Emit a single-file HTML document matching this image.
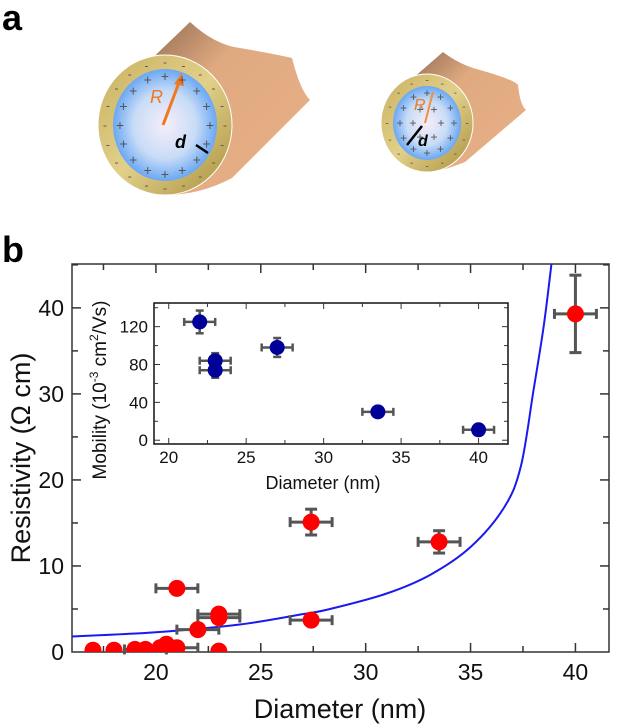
<!DOCTYPE html>
<html><head><meta charset="utf-8"><style>
body{margin:0;background:#fff;}
svg{display:block;font-family:"Liberation Sans",sans-serif;}
</style></head><body>
<svg id="fig" width="621" height="726" viewBox="0 0 621 726">
<defs>
<radialGradient id="core" cx="0.5" cy="0.5" r="0.5"><stop offset="0" stop-color="#f6eefa"/><stop offset="0.6" stop-color="#c8dcf6"/><stop offset="1" stop-color="#6aa8f4"/></radialGradient>
<linearGradient id="tube" x1="0" y1="0" x2="1" y2="1"><stop offset="0" stop-color="#8a6650"/><stop offset="0.35" stop-color="#e0aa80"/><stop offset="1" stop-color="#e8b088"/></linearGradient>
<linearGradient id="ring" x1="0" y1="0" x2="1" y2="1"><stop offset="0" stop-color="#c8b060"/><stop offset="0.5" stop-color="#e2d08a"/><stop offset="1" stop-color="#a8903c"/></linearGradient>
</defs>
<text x="2" y="30" font-size="36" font-weight="bold">a</text>
<text x="2" y="262" font-size="36" font-weight="bold">b</text>

<g>
<path d="M140,70 L190,22 Q215,45 240,48 Q280,55 292,58 Q300,90 310,100 L232,178 Q200,195 165,195 Z" fill="url(#tube)"/>
<ellipse cx="165" cy="125" rx="67" ry="70" fill="url(#ring)" stroke="#fff" stroke-width="1"/>
<ellipse cx="165" cy="125" rx="52" ry="56" fill="url(#core)"/>
<line x1="163" y1="125" x2="180" y2="80" stroke="#f07820" stroke-width="3"/>
<polygon points="182,73 174,84 184,86" fill="#f07820"/>
<text x="150" y="103" font-size="18" font-style="italic" fill="#f07820">R</text>
<text x="175" y="148" font-size="18" font-style="italic" font-weight="bold">d</text>
<line x1="196" y1="145" x2="208" y2="153" stroke="#000" stroke-width="2.5"/>
</g>
<g>
<path d="M405,85 L443,52 Q460,65 480,70 Q515,80 518,85 Q520,105 526,110 L465,162 Q440,172 427,172 Z" fill="url(#tube)"/>
<ellipse cx="427" cy="123" rx="46" ry="49" fill="url(#ring)" stroke="#fff" stroke-width="1"/>
<ellipse cx="427" cy="123" rx="34" ry="37" fill="url(#core)"/>
<line x1="425" y1="123" x2="433" y2="92" stroke="#f09040" stroke-width="2"/>
<text x="414" y="110" font-size="16" font-style="italic" fill="#f07820">R</text>
<line x1="422" y1="126" x2="407" y2="145" stroke="#000" stroke-width="2.5"/>
<text x="418" y="146" font-size="16" font-style="italic" font-weight="bold">d</text>
</g>
<g id="charges"></g>

<g id="main"></g>
<g id="inset"></g>
</svg>
<script>
// ===== Main chart data =====
const redDiam = [17, 18, 19, 19.5, 20.2, 20.5, 21, 23, 21, 22, 23, 23, 27.4, 27.4, 33.5, 40];
const redRho = [0.2, 0.2, 0.3, 0.3, 0.5, 0.9, 0.5, 0.1, 7.4, 2.6, 4.4, 4.0, 3.7, 15.1, 12.8, 39.3];
const redXErr = [0, 0, 0, 1, 1, 0, 1, 0, 1, 1, 1, 1, 1, 1, 1, 1];
const redYErr = [0, 0, 0, 0, 0, 0, 0, 0, 0.5, 0.3, 0.5, 0.5, 0.5, 1.5, 1.3, 4.5];
const fitDiam = [16, 20, 24, 27, 28.3, 31, 33.1, 35, 36.6, 37.4, 38, 38.5, 38.9];
const fitRho = [1.8, 2.3, 3.2, 4.4, 5.0, 6.8, 9.0, 12.2, 16.8, 21.6, 30.4, 38.1, 46];
const mainXTicks = [20, 25, 30, 35, 40];
const mainYTicks = [0, 10, 20, 30, 40];
// ===== Inset data =====
const blueDiam = [22, 23, 23, 27, 33.5, 40];
const blueMob = [125, 84, 74, 98, 30, 11];
const blueXErr = [1, 1, 1, 1, 1, 1];
const blueYErr = [12, 8, 8, 10, 3, 3];
const insetXTicks = [20, 25, 30, 35, 40];
const insetYTicks = [0, 40, 80, 120];

const NS = "http://www.w3.org/2000/svg";
function mk(parent, tag, attrs, text){const e=document.createElementNS(NS,tag);for(const k in attrs)e.setAttribute(k,attrs[k]);if(text!==undefined)e.textContent=text;parent.appendChild(e);return e;}

// charges
(function(){
 const g=document.getElementById('charges');
 function ringMarks(cx,cy,rx,ry,n,sym,fs){for(let i=0;i<n;i++){const a=i/n*2*Math.PI;const t=mk(g,'text',{x:cx+rx*Math.cos(a),y:cy+ry*Math.sin(a)+fs*0.35,'font-size':fs,'text-anchor':'middle',fill:'#555'},sym);
 
 }}
 ringMarks(165,125,60,63,20,'-',12);
 ringMarks(165,125,45,49,16,'+',14);
 ringMarks(427,123,40,43,16,'-',10);
 ringMarks(427,123,27,30,12,'+',12);
 ringMarks(427,123,14,16,6,'+',12);
})();

// main chart
(function(){
 const g=document.getElementById('main');
 const L=72,R=609,T=264,B=652;
 const xmin=16,xmax=41.6,ymin=0,ymax=45.1;
 const X=v=>L+(v-xmin)/(xmax-xmin)*(R-L);
 const Y=v=>B-(v-ymin)/(ymax-ymin)*(B-T);
 const frame=mk(g,'rect',{x:L,y:T,width:R-L,height:B-T,fill:'none',stroke:'#333','stroke-width':1.5});
 
 
 for(let v=17.5;v<=40;v+=2.5){const maj=mainXTicks.includes(v);const len=maj?9:6;
  mk(g,'line',{x1:X(v),x2:X(v),y1:B,y2:B-len,stroke:'#333','stroke-width':1.5});
  mk(g,'line',{x1:X(v),x2:X(v),y1:T,y2:T+len,stroke:'#333','stroke-width':1.5});}
 for(let v=5;v<=45;v+=5){const maj=mainYTicks.includes(v);const len=maj?9:6;
  mk(g,'line',{x1:L,x2:L+len,y1:Y(v),y2:Y(v),stroke:'#333','stroke-width':1.5});
  mk(g,'line',{x1:R,x2:R-len,y1:Y(v),y2:Y(v),stroke:'#333','stroke-width':1.5});}
 mainXTicks.forEach(v=>{const t=mk(g,'text',{x:X(v),y:B+28,'font-size':23,'text-anchor':'middle',fill:'#111'},v);
  
  });
 mainYTicks.forEach(v=>{const t=mk(g,'text',{x:L-8,y:Y(v)+8,'font-size':23,'text-anchor':'end',fill:'#111'},v);
  
  });
 const xt=mk(g,'text',{x:340,y:718,'font-size':27,'text-anchor':'middle',fill:'#111'},'Diameter (nm)');
 
 
 const yt=mk(g,'text',{x:0,y:0,'font-size':27,'text-anchor':'middle',fill:'#111',transform:'translate(30,458) rotate(-90)'},'Resistivity (Ω cm)');
 
 
 const clip=mk(g,'clipPath',{id:'mclip'});mk(clip,'rect',{x:L,y:T,width:R-L,height:B-T});
 const pts=fitDiam.map((v,i)=>[X(v),Y(fitRho[i])]);
 let d='M'+pts[0][0]+','+pts[0][1];
 for(let i=0;i<pts.length-1;i++){const p0=pts[Math.max(0,i-1)],p1=pts[i],p2=pts[i+1],p3=pts[Math.min(pts.length-1,i+2)];
  d+=' C'+(p1[0]+(p2[0]-p0[0])/6)+','+(p1[1]+(p2[1]-p0[1])/6)+' '+(p2[0]-(p3[0]-p1[0])/6)+','+(p2[1]-(p3[1]-p1[1])/6)+' '+p2[0]+','+p2[1];}
 const fit=mk(g,'path',{d:d,fill:'none',stroke:'#1a1aee','stroke-width':2,'clip-path':'url(#mclip)'});
 
 
 redDiam.forEach((v,i)=>{
  const eg=mk(g,'g',{});
  
  
  if(redXErr[i]){const x1=X(v-redXErr[i]),x2=X(v+redXErr[i]),y=Y(redRho[i]);
   mk(eg,'line',{x1:x1,x2:x2,y1:y,y2:y,stroke:'#555','stroke-width':3});
   mk(eg,'line',{x1:x1,x2:x1,y1:y-5,y2:y+5,stroke:'#555','stroke-width':3});
   mk(eg,'line',{x1:x2,x2:x2,y1:y-5,y2:y+5,stroke:'#555','stroke-width':3});}
  if(redYErr[i]){const y1=Y(redRho[i]-redYErr[i]),y2=Y(redRho[i]+redYErr[i]),x=X(v);
   mk(eg,'line',{x1:x,x2:x,y1:y1,y2:y2,stroke:'#555','stroke-width':3});
   mk(eg,'line',{x1:x-6,x2:x+6,y1:y1,y2:y1,stroke:'#555','stroke-width':3});
   mk(eg,'line',{x1:x-6,x2:x+6,y1:y2,y2:y2,stroke:'#555','stroke-width':3});}
 });
 redDiam.forEach((v,i)=>{const c=mk(g,'circle',{cx:X(v),cy:Y(redRho[i]),r:8.5,fill:'#ff0000','clip-path':'url(#mclip)'});
  
  });
})();

// inset chart
(function(){
 const g=document.getElementById('inset');
 const L=154,R=508,T=303,B=444;
 const xmin=19.05,xmax=41.9,ymin=-4,ymax=145;
 const X=v=>L+(v-xmin)/(xmax-xmin)*(R-L);
 const Y=v=>B-(v-ymin)/(ymax-ymin)*(B-T);
 const fr=mk(g,'rect',{x:L,y:T,width:R-L,height:B-T,fill:'#fff',stroke:'#111','stroke-width':1.5});
 
 
 for(let v=20;v<=40;v+=2.5){const len=insetXTicks.includes(v)?6:4;
  mk(g,'line',{x1:X(v),x2:X(v),y1:B,y2:B-len,stroke:'#333'});mk(g,'line',{x1:X(v),x2:X(v),y1:T,y2:T+len,stroke:'#333'});}
 for(let v=0;v<=140;v+=20){const len=insetYTicks.includes(v)?6:4;
  mk(g,'line',{x1:L,x2:L+len,y1:Y(v),y2:Y(v),stroke:'#333'});mk(g,'line',{x1:R,x2:R-len,y1:Y(v),y2:Y(v),stroke:'#333'});}
 insetXTicks.forEach(v=>{const t=mk(g,'text',{x:X(v),y:B+19,'font-size':17,'text-anchor':'middle',fill:'#111'},v);
  
  });
 insetYTicks.forEach(v=>{const t=mk(g,'text',{x:L-6,y:Y(v)+6,'font-size':17,'text-anchor':'end',fill:'#111'},v);
  
  });
 const xt=mk(g,'text',{x:323,y:489,'font-size':18,'text-anchor':'middle',fill:'#111'},'Diameter (nm)');
 
 
 const yt=mk(g,'text',{x:0,y:0,'font-size':19,'text-anchor':'middle',fill:'#111',transform:'translate(106,390) rotate(-90)'});
 
 
 mk(yt,'tspan',{},'Mobility (10');
 mk(yt,'tspan',{dy:-8,'font-size':12},'-3');
 mk(yt,'tspan',{dy:8},' cm');
 mk(yt,'tspan',{dy:-8,'font-size':12},'2');
 mk(yt,'tspan',{dy:8},'/Vs)');
 blueDiam.forEach((v,i)=>{
  const eg=mk(g,'g',{});
  
  
  const x1=X(v-blueXErr[i]),x2=X(v+blueXErr[i]),y=Y(blueMob[i]);
  mk(eg,'line',{x1:x1,x2:x2,y1:y,y2:y,stroke:'#555','stroke-width':2.5});
  mk(eg,'line',{x1:x1,x2:x1,y1:y-4,y2:y+4,stroke:'#555','stroke-width':2.5});
  mk(eg,'line',{x1:x2,x2:x2,y1:y-4,y2:y+4,stroke:'#555','stroke-width':2.5});
  const y1=Y(blueMob[i]-blueYErr[i]),y2=Y(blueMob[i]+blueYErr[i]),x=X(v);
  mk(eg,'line',{x1:x,x2:x,y1:y1,y2:y2,stroke:'#555','stroke-width':2.5});
  mk(eg,'line',{x1:x-4,x2:x+4,y1:y1,y2:y1,stroke:'#555','stroke-width':2.5});
  mk(eg,'line',{x1:x-4,x2:x+4,y1:y2,y2:y2,stroke:'#555','stroke-width':2.5});
 });
 blueDiam.forEach((v,i)=>{const c=mk(g,'circle',{cx:X(v),cy:Y(blueMob[i]),r:7.5,fill:'#000099'});
  
  });
})();
</script>
</body></html>
